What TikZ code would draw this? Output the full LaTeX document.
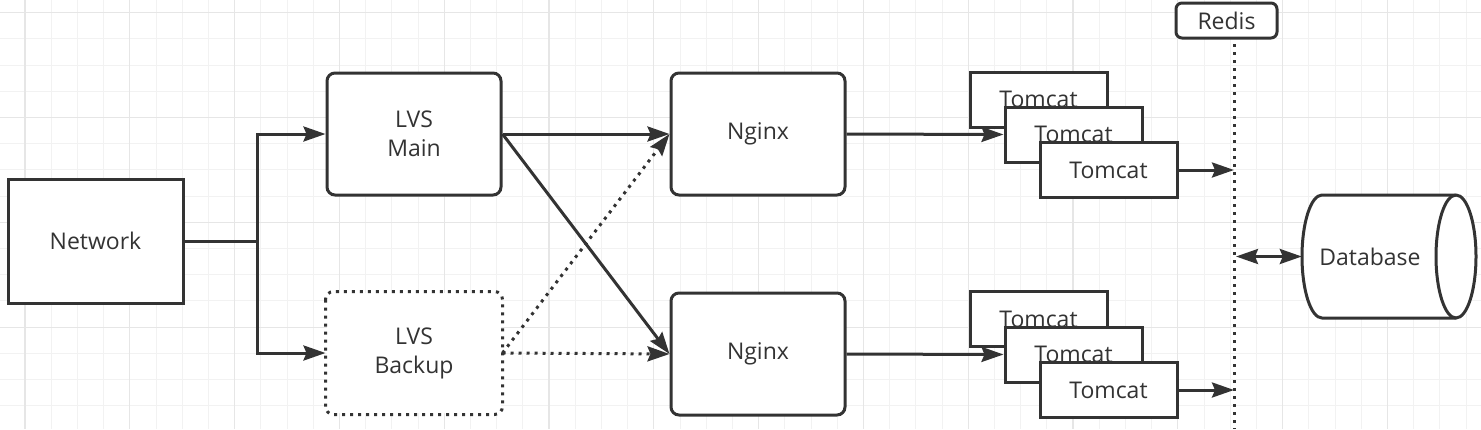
\documentclass[tikz,border=0pt]{standalone}
\usepackage{fontspec}
\setmainfont{Open Sans}
\usetikzlibrary{arrows.meta}
\definecolor{ink}{HTML}{333333}
\definecolor{gridminor}{HTML}{F2F2F2}
\definecolor{gridmajor}{HTML}{E6E6E6}

\begin{document}
\begin{tikzpicture}[
x=1pt, y=-1pt,
font=\fontsize{23}{29}\selectfont,
box/.style={draw=ink, line width=3pt, fill=white, text=ink, inner sep=0pt, align=center},
roundbox/.style={box, rounded corners=8pt},
tomcat/.style={box, minimum width=137pt, minimum height=55pt},
dotline/.style={line width=3pt, dash pattern=on 3pt off 5pt},
link/.style={draw=ink, line width=3pt, -{Stealth[length=22pt,width=15pt,inset=3pt]}},
biglink/.style={draw=ink, line width=3pt, {Stealth[length=22pt,width=15pt,inset=3pt]}-{Stealth[length=22pt,width=15pt,inset=3pt]}},
]
\useasboundingbox (0,0) rectangle (1481,429);

% background grid
\begin{scope}
\clip (0,0) rectangle (1481,429);
\foreach \i in {-1,...,56}
  \draw[gridminor, line width=1pt] ({25+26.2*\i},0) -- ({25+26.2*\i},429);
\foreach \i in {-1,...,16}
  \draw[gridminor, line width=1pt] (0,{12.7+26.2*\i}) -- (1481,{12.7+26.2*\i});
\foreach \i in {0,...,14}
  \draw[gridmajor, line width=1.2pt] ({25+104.8*\i},0) -- ({25+104.8*\i},429);
\foreach \i in {0,...,4}
  \draw[gridmajor, line width=1.2pt] (0,{12.7+104.8*\i}) -- (1481,{12.7+104.8*\i});
\end{scope}

\node[box, minimum width=175pt, minimum height=124pt] (network) at (95.5,241) {Network};
\node[roundbox, minimum width=174pt, minimum height=122pt] (lvsmain) at (414,134) {LVS\\Main};
\node[roundbox, draw=none, minimum width=174pt, minimum height=120pt] (lvsbackup) at (414,353) {LVS\\Backup};
\draw[ink, dotline, rounded corners=8pt] (lvsbackup.north west) rectangle (lvsbackup.south east);
\node[roundbox, minimum width=174pt, minimum height=122pt] (nginx1) at (758,134) {Nginx};
\node[roundbox, minimum width=174pt, minimum height=122pt] (nginx2) at (758,354) {Nginx};

\node[tomcat] (tomcat1a) at (1038.5,99.5) {Tomcat};
\node[tomcat] (tomcat1b) at (1073.5,134.5) {Tomcat};
\node[tomcat] (tomcat1c) at (1108.5,170) {Tomcat};
\node[tomcat] (tomcat2a) at (1038.5,319) {Tomcat};
\node[tomcat] (tomcat2b) at (1073.5,354.5) {Tomcat};
\node[tomcat] (tomcat2c) at (1108.5,390) {Tomcat};

\node[roundbox, rounded corners=6pt, minimum width=101pt, minimum height=35pt] (redis) at (1226.5,20.5) {Redis};

% database cylinder
\draw[ink, line width=3pt, fill=white] (1322,195) -- (1456,195)
  arc[start angle=90, end angle=-90, x radius=20pt, y radius=61.5pt] -- (1322,318)
  arc[start angle=270, end angle=90, x radius=20pt, y radius=61.5pt] -- cycle;
\draw[ink, line width=3pt] (1456,195) arc[start angle=90, end angle=270, x radius=20pt, y radius=61.5pt];
\node[text=ink, inner sep=0pt, minimum width=136pt, minimum height=123pt] (database) at (1370,256.5) {Database};

\coordinate (split) at (257,241);
\coordinate (bustop) at (1234,44);
\coordinate (busbottom) at (1234,429);

\draw[ink, dotline] (bustop) -- (busbottom);

\draw[ink, line width=3pt] (network.east) -- (split);
\draw[link] (split) |- (lvsmain.west);
\draw[link] (split) |- (lvsbackup.west);
\draw[link] (lvsmain.east) -- (nginx1.west);
\draw[link] (lvsmain.east) -- (nginx2.west);
\draw[link, dotline] (lvsbackup.east) -- (nginx2.west);
\draw[link, dotline] (lvsbackup.east) -- (nginx1.west);
\draw[link] (nginx1.east) -- (tomcat1b.west);
\draw[link] (nginx2.east) -- (tomcat2b.west);
\draw[link] (tomcat1c.east) -- (tomcat1c -| bustop);
\draw[link] (tomcat2c.east) -- (tomcat2c -| bustop);
\draw[biglink] ([xshift=2pt]database -| bustop) -- (database.west);
\end{tikzpicture}
\end{document}
